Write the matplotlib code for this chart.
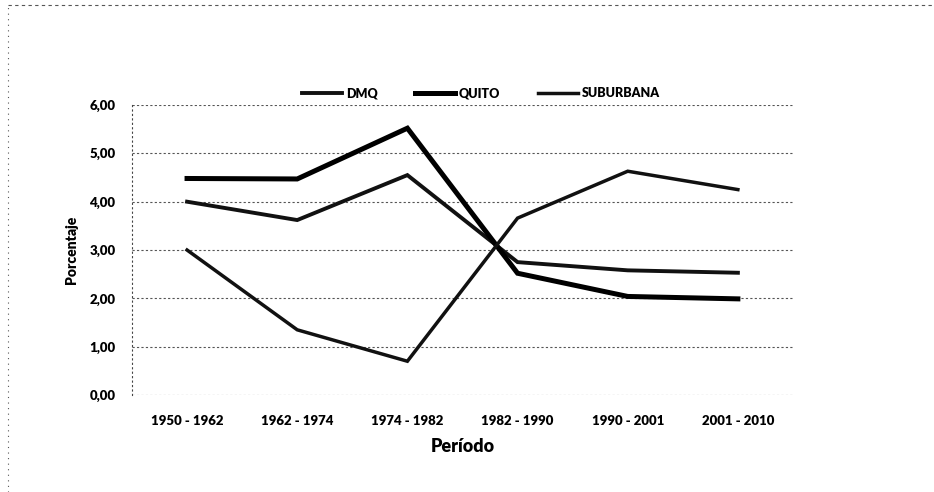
import matplotlib

matplotlib.use("Agg")
import matplotlib.pyplot as plt
from matplotlib.lines import Line2D
from matplotlib.ticker import FuncFormatter

periods = ["1950 - 1962", "1962 - 1974", "1974 - 1982", "1982 - 1990", "1990 - 2001", "2001 - 2010"]
dmq = [4.00, 3.62, 4.55, 2.75, 2.58, 2.53]
quito = [4.48, 4.47, 5.52, 2.52, 2.04, 1.99]
suburbana = [3.00, 1.35, 0.70, 3.66, 4.63, 4.25]

plt.rcParams["font.family"] = ["Lato", "DejaVu Sans"]

figure = plt.figure(figsize=(9.34, 4.92), dpi=100)
axis = figure.add_axes([0.1413, 0.197, 0.7077, 0.5896])

x = range(len(periods))
axis.plot(x, dmq, color="#111111", linewidth=2.8, label="DMQ", solid_joinstyle="miter")
axis.plot(x, quito, color="#000000", linewidth=3.6, label="QUITO", solid_joinstyle="miter")
axis.plot(x, suburbana, color="#111111", linewidth=2.5, label="SUBURBANA", solid_joinstyle="miter")

axis.set_xlim(-0.5, len(periods) - 0.5)
axis.set_ylim(0, 6)
axis.set_yticks([0, 1, 2, 3, 4, 5, 6])
axis.yaxis.set_major_formatter(FuncFormatter(lambda v, _: f"{v:.2f}".replace(".", ",")))
axis.set_xticks(list(x))
axis.set_xticklabels(periods)
axis.grid(axis="y", color="#555555", linestyle=(0, (2, 2)), linewidth=0.8)
axis.set_axisbelow(True)

for side in ("top", "right", "bottom"):
    axis.spines[side].set_visible(False)
axis.spines["left"].set_linestyle((0, (1, 3)))
axis.spines["left"].set_color("#444444")
axis.tick_params(axis="x", length=0, pad=14, labelsize=9.5)
axis.tick_params(axis="y", length=0, pad=12, labelsize=9.5)
for label in axis.get_xticklabels() + axis.get_yticklabels():
    label.set_fontweight("heavy")

axis.set_xlabel("Período", fontsize=13, fontweight="heavy", labelpad=8)
axis.set_ylabel("Porcentaje", fontsize=10, fontweight="heavy", labelpad=8)

handles = [
    Line2D([], [], color="#111111", linewidth=2.8),
    Line2D([], [], color="#000000", linewidth=3.6),
    Line2D([], [], color="#111111", linewidth=2.5),
]
figure.legend(
    handles,
    ["DMQ", "QUITO", "SUBURBANA"],
    loc="center",
    bbox_to_anchor=(0.515, 0.81),
    ncol=3,
    frameon=False,
    handlelength=3.2,
    handletextpad=0.3,
    columnspacing=3.0,
    prop={"weight": "heavy", "size": 9},
)

# dotted border of the chart frame
figure.add_artist(Line2D([0.009, 0.999], [0.99, 0.99], transform=figure.transFigure,
                         color="#555555", linewidth=0.8, linestyle=(0, (3, 3))))
figure.add_artist(Line2D([0.009, 0.009], [0.0, 0.99], transform=figure.transFigure,
                         color="#555555", linewidth=0.8, linestyle=(0, (1, 4))))

figure.savefig("out.png", dpi=100)
plt.close(figure)
